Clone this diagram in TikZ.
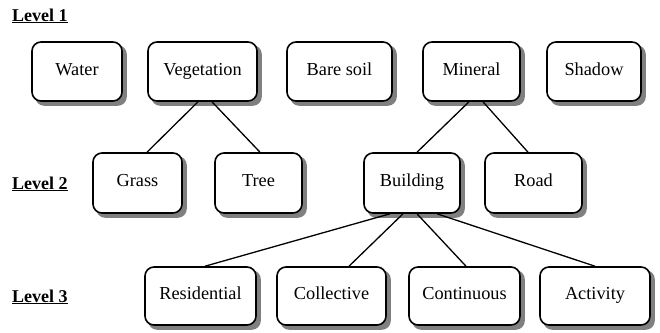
\documentclass[tikz,border=0pt]{standalone}
\usepackage{fontspec}
\setmainfont{Liberation Serif}
\usetikzlibrary{backgrounds}
\begin{document}
\begin{tikzpicture}[x=1pt,y=-1pt,
  box/.style={draw=black, line width=1.6pt, rounded corners=9pt, fill=white,
    inner sep=0pt, text height=12pt, text depth=5pt, font=\fontsize{18.3}{20}\selectfont},
  shade/.style={fill=black!50, rounded corners=9pt},
  lvl/.style={anchor=base west, inner sep=0pt, font=\fontsize{18}{20}\selectfont\bfseries},
  link/.style={line width=1.3pt}]
\useasboundingbox (0,0) rectangle (660,332);
% level labels
\node[lvl] (l1) at (12,21) {\underline{Level 1}};
\node[lvl] (l2) at (12,189) {\underline{Level 2}};
\node[lvl] (l3) at (12,302) {\underline{Level 3}};
% level 1
\node[box, minimum width=90pt, minimum height=59pt] (wat) at (77,71.5) {Water};
\node[box, minimum width=109pt, minimum height=59pt] (veg) at (202.5,71.5) {Vegetation};
\node[box, minimum width=105pt, minimum height=59pt] (bare) at (339.5,71.5) {Bare soil};
\node[box, minimum width=97pt, minimum height=59pt] (min) at (471.5,71.5) {Mineral};
\node[box, minimum width=94pt, minimum height=59pt] (sha) at (594,71.5) {Shadow};
% level 2
\node[box, minimum width=89pt, minimum height=60pt] (gra) at (137.5,183) {Grass};
\node[box, minimum width=87pt, minimum height=60pt] (tre) at (258.5,183) {Tree};
\node[box, minimum width=96pt, minimum height=60pt] (bld) at (412,183) {Building};
\node[box, minimum width=97pt, minimum height=60pt] (road) at (533.5,183) {Road};
% level 3
\node[box, minimum width=111pt, minimum height=58pt] (res) at (200.5,296) {Residential};
\node[box, minimum width=109pt, minimum height=58pt] (col) at (331.5,296) {Collective};
\node[box, minimum width=111pt, minimum height=58pt] (con) at (464.5,296) {Continuous};
\node[box, minimum width=110pt, minimum height=58pt] (act) at (595,296) {Activity};
% shadows
\begin{scope}[on background layer]
\foreach \n in {wat,veg,bare,min,sha,gra,tre,bld,road,res,col,con,act}
  \fill[shade] ([shift={(4pt,-4pt)}]\n.north west) rectangle ([shift={(4pt,-4pt)}]\n.south east);
\end{scope}
% connectors
\draw[link] ([xshift=-4.5pt]veg.south) -- ([xshift=9.5pt]gra.north);
\draw[link] ([xshift=9.5pt]veg.south) -- ([xshift=1.5pt]tre.north);
\draw[link] ([xshift=-2.5pt]min.south) -- ([xshift=5pt]bld.north);
\draw[link] ([xshift=11.5pt]min.south) -- ([xshift=-5.5pt]road.north);
\draw[link] ([xshift=-22pt]bld.south) -- ([xshift=4.5pt]res.north);
\draw[link] ([xshift=-9pt]bld.south) -- ([xshift=17.5pt]col.north);
\draw[link] ([xshift=5pt]bld.south) -- ([xshift=1.5pt]con.north);
\draw[link] ([xshift=25pt]bld.south) -- (act.north);
\end{tikzpicture}
\end{document}
